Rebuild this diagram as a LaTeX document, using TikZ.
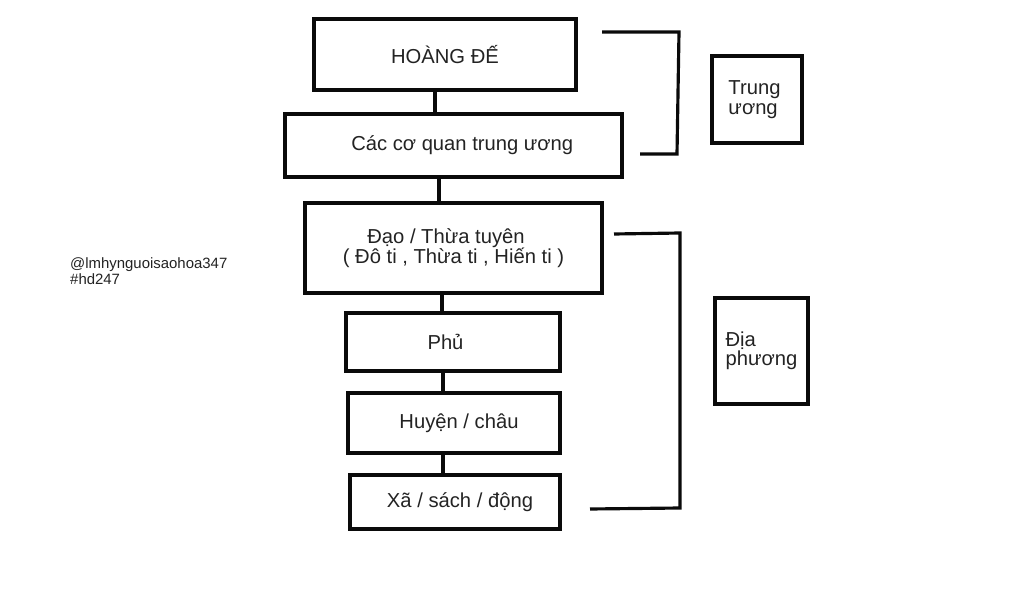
\documentclass[tikz,border=0pt]{standalone}
\usepackage{fontspec}
\setmainfont{Liberation Sans}
\usetikzlibrary{positioning}
\definecolor{inkline}{RGB}{10, 10, 10}
\definecolor{inktext}{RGB}{35, 35, 35}

\begin{document}
\begin{tikzpicture}[
	x=0.02cm, y=-0.02cm,
	font=\fontsize{11.5}{11.5}\selectfont,
	% Styles for the level boxes, side boxes and lines
	levelbox/.style={draw=inkline, line width=1.8pt, text=inktext, align=center, inner sep=0pt},
	sidebox/.style={draw=inkline, line width=1.8pt, text=inktext, align=left, inner sep=0pt},
	linkline/.style={draw=inkline, line width=2pt},
	bracketline/.style={draw=inkline, line width=1.8pt, line join=miter},
	tagtext/.style={font=\fontsize{8.5}{9}\selectfont, text=inktext, align=left}
	]
	
	\fill[white] (0,0) rectangle (1024,594);
	\useasboundingbox (0,0) rectangle (1024,594);
	
	% ==========================================
	% 1. CENTRAL LEVELS
	% ==========================================
	\node[levelbox, minimum width=5.24cm, minimum height=1.42cm] (hoangde) at (445,54.5) {HOÀNG ĐẾ};
	\node[levelbox, minimum width=6.74cm, minimum height=1.26cm] (coquan) at (453.5,145.5) {\hspace*{0.35cm}Các cơ quan trung ương};
	
	% ==========================================
	% 2. LOCAL LEVELS
	% ==========================================
	\node[levelbox, minimum width=5.94cm, minimum height=1.80cm] (dao) at (453.5,248) {\hspace*{-0.3cm}Đạo / Thừa tuyên\\( Đô ti , Thừa ti , Hiến ti )};
	\node[levelbox, minimum width=4.28cm, minimum height=1.16cm] (phu) at (453,342) {\hspace*{-0.3cm}Phủ};
	\node[levelbox, minimum width=4.24cm, minimum height=1.20cm] (huyen) at (454,423) {\hspace*{0.2cm}Huyện / châu};
	\node[levelbox, minimum width=4.20cm, minimum height=1.08cm] (xa) at (455,502) {\hspace*{0.2cm}Xã / sách / động};
	
	% Vertical links between the levels
	\draw[linkline] ([xshift=-0.2cm]hoangde.south) -- ([xshift=-0.2cm]hoangde.south |- coquan.north);
	\draw[linkline] ([xshift=-0.29cm]coquan.south) -- ([xshift=-0.29cm]coquan.south |- dao.north);
	\draw[linkline] ([xshift=-0.23cm]dao.south) -- ([xshift=-0.23cm]dao.south |- phu.north);
	\draw[linkline] ([xshift=-0.2cm]phu.south) -- ([xshift=-0.2cm]phu.south |- huyen.north);
	\draw[linkline] ([xshift=-0.22cm]huyen.south) -- ([xshift=-0.22cm]huyen.south |- xa.north);
	
	% ==========================================
	% 3. BRACKETS AND SIDE LABELS
	% ==========================================
	\draw[bracketline] (602,32) -- (679,32) -- (677,154) -- (640,154);
	\node[sidebox, minimum width=1.80cm, minimum height=1.74cm] (trunguong) at (757,99.5) {\hspace*{-0.1cm}Trung\\\hspace*{-0.1cm}ương};
	
	\draw[bracketline] (614,234) -- (680,233) -- (680,508) -- (590,509);
	\node[sidebox, minimum width=1.86cm, minimum height=2.12cm] (diaphuong) at (761.5,351) {\raisebox{-0.1cm}{Địa}\\phương};
	
	% Watermark
	\node[tagtext, anchor=west] (tag) at (64,271) {@lmhynguoisaohoa347\\\#hd247};
	
\end{tikzpicture}
\end{document}
